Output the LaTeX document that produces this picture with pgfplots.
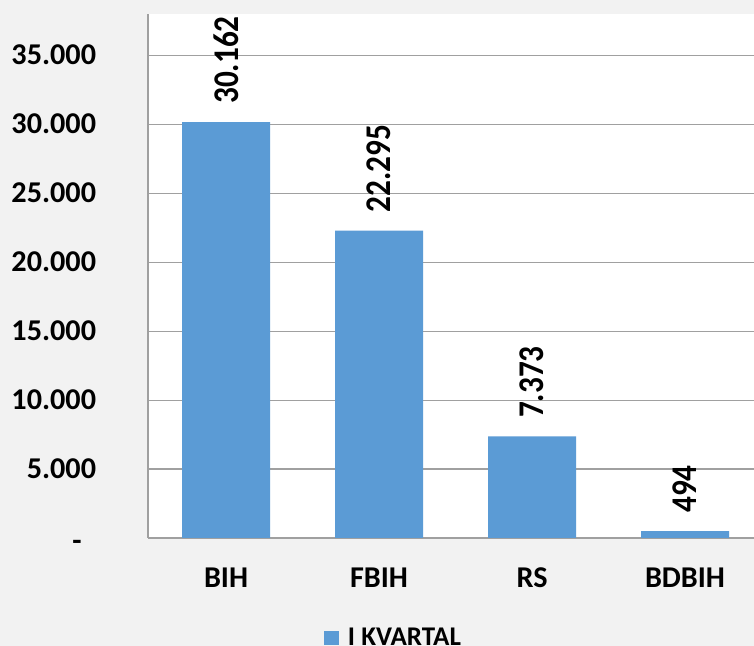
\documentclass[border=0pt]{standalone}
\usepackage{pgfplots}
\pgfplotsset{compat=1.18}
\usepackage{pgfplotstable}
\usepackage{graphicx}
\usepackage{fontspec}
\setmainfont{Carlito}
\definecolor{barblue}{HTML}{5B9BD5}
\definecolor{bgray}{HTML}{F2F2F2}
\definecolor{gridgray}{HTML}{A0A0A0}
\pgfplotstableread{
x y label
0 30162 30.162
1 22295 22.295
2 7373 7.373
3 494 494
}\datatable
\begin{document}
\begin{tikzpicture}
\useasboundingbox (-74pt,-54pt) rectangle (303pt,269pt);
\fill[bgray] (-74pt,-54pt) rectangle (303pt,269pt);
\begin{axis}[
  at={(0pt,0pt)}, anchor=south west,
  scale only axis,
  width=303pt, height=262pt,
  xmin=-0.51, xmax=3.451,
  ymin=0, ymax=38000,
  scaled y ticks=false,
  axis background/.style={fill=white},
  axis x line*=bottom, axis y line*=left,
  axis line style={-, draw=gridgray, line width=0.8pt},
  major tick length=0pt,
  xtick={0,1,2,3},
  xticklabels={BIH,FBIH,RS,BDBIH},
  ytick={0,5000,10000,15000,20000,25000,30000,35000},
  yticklabels={{\raisebox{-1.5pt}{-}\hspace*{7.2pt}},5.000,10.000,15.000,20.000,25.000,30.000,35.000},
  ymajorgrids,
  grid style={draw=gridgray, line width=0.6pt},
  yticklabel style={anchor=base east, inner sep=0pt, xshift=-25.75pt, yshift=-4.7pt, font=\bfseries\fontsize{15.1}{17}\selectfont},
  xticklabel style={anchor=base, inner sep=0pt, yshift=-24.8pt, font=\bfseries\fontsize{15.1}{17}\selectfont},
  ybar, bar width=44pt,
  point meta=explicit symbolic,
  nodes near coords={\scalebox{1}[1.16]{\pgfplotspointmeta}},
  every node near coord/.append style={rotate=90, anchor=west, inner xsep=9pt, inner ysep=0pt, font=\bfseries\fontsize{15.6}{18}\selectfont, text=black},
  legend style={draw=none, fill=none, at={(axis description cs:0.2904,-0.192)}, anchor=west, inner sep=0pt, outer sep=0pt,
    font=\bfseries\fontsize{13.5}{16}\selectfont,
    nodes={inner sep=0pt}, column sep=4.5pt},
  legend image code/.code={\fill[barblue] (0pt,-3.2pt) rectangle (7.5pt,3.8pt);},
]
\addplot[fill=barblue, draw=none] table[x=x, y=y, meta=label] {\datatable};
\addlegendentry{I KVARTAL}
\end{axis}
\end{tikzpicture}
\end{document}
